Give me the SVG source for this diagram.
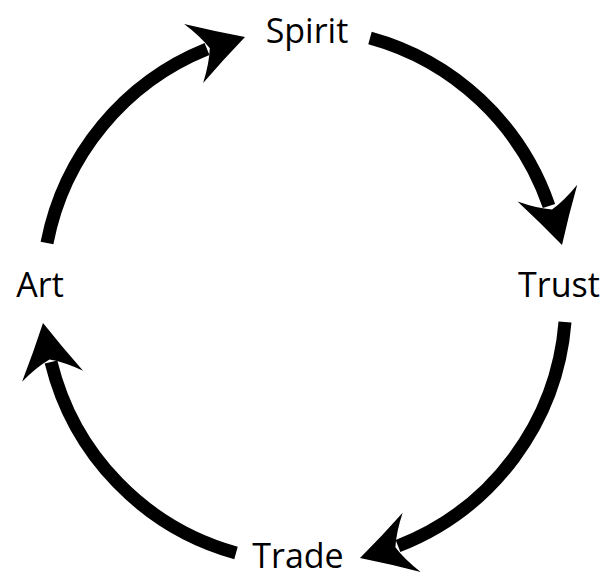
<svg xmlns="http://www.w3.org/2000/svg" xmlns:xlink="http://www.w3.org/1999/xlink" width="615" height="575" viewBox="0 0 615 575">
<style>
.lbl{font-family:"Open Sans","Liberation Sans",sans-serif;font-size:34px;fill:#000;text-anchor:middle}
.arc{fill:none;stroke:#000;stroke-width:13}
.head{fill:#000}
</style>
<defs>
<path id="head" d="M0,0 Q-27,-14.5 -54,-31 Q-42,-14 -37,0 Q-42,14 -54,31 Q-27,14.5 0,0 Z"/>
</defs>
<rect width="615" height="575" fill="#fff"/>
<g id="connectors">
<path class="arc" d="M370,38 A263,263 0 0,1 549,206"/>
<use class="head" xlink:href="#head" transform="translate(562,245) rotate(74.3)"/>
<path class="arc" d="M565,322 A263,263 0 0,1 398,546"/>
<use class="head" xlink:href="#head" transform="translate(360,558) rotate(163.1)"/>
<path class="arc" d="M236,553 A263,263 0 0,1 51,362"/>
<use class="head" xlink:href="#head" transform="translate(43,323) rotate(259.8)"/>
<path class="arc" d="M47,243 A263,263 0 0,1 207,49"/>
<use class="head" xlink:href="#head" transform="translate(245,37) rotate(-17.9)"/>
</g>
<g id="spirit"><text class="lbl" x="307" y="43">Spirit</text></g>
<g id="trust"><text class="lbl" x="559" y="297">Trust</text></g>
<g id="trade"><text class="lbl" x="298" y="568">Trade</text></g>
<g id="art"><text class="lbl" x="40" y="297">Art</text></g>
</svg>
